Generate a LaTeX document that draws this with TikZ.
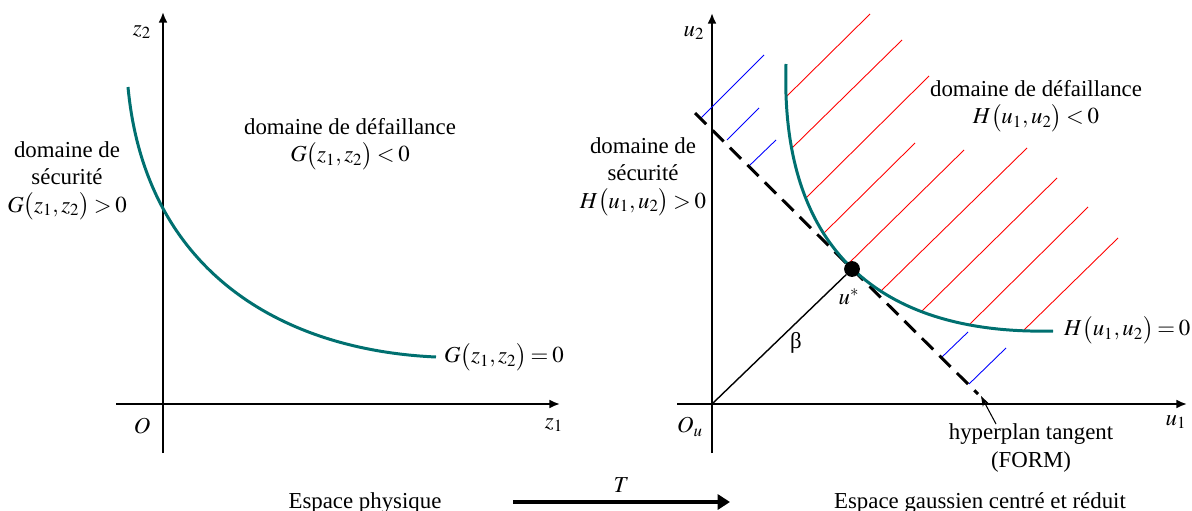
\documentclass[tikz,border=0pt]{standalone}
\usepackage{mathptmx}
\usepackage{fontspec}
\setmainfont{Liberation Serif}
\usetikzlibrary{arrows.meta}
\definecolor{courbe}{RGB}{0,112,112}
\newcommand{\serre}{\thickmuskip=3mu\relax}

\begin{document}
\begin{tikzpicture}[x=0.02cm,y=-0.02cm,
    every node/.style={font=\fontsize{13}{15.5}\selectfont\serre},
    axe/.style={line width=1.1pt,-{Latex[length=6pt,width=5pt]}},
    etat/.style={courbe,line width=1.7pt},
    hachR/.style={red,line width=0.5pt},
    hachB/.style={blue,line width=0.5pt},
    tangente/.style={line width=1.7pt,dash pattern=on 9pt off 5pt}]
\useasboundingbox (0,0) rectangle (1192,510);

% espace physique
\draw[axe] (163,453) -- (163,12);
\draw[axe] (116,404) -- (560,404);
\node (z2) at (142,32) {$z_2$};
\node (O) at (142,426) {$O$};
\node (z1) at (554,425) {$z_1$};
\draw[etat] (128,87) .. controls (145,270) and (280,350) .. (436,357);
\node[align=center] (defG) at (350,144) {domaine de défaillance\\$G\big(z_1,z_2\big)<0$};
\node[align=center] (secG) at (67,181) {domaine de\\sécurité\\$G\big(z_1,z_2\big)>0$};
\node[anchor=west] (limG) at (438,357) {$G\big(z_1,z_2\big)=0$};
\node[anchor=base] (espP) at (365,508) {Espace physique};

% transformation
\coordinate (Ta) at (513,502);
\coordinate (Tb) at (730,502);
\draw[line width=2.2pt,-{Triangle[length=7pt,width=8.5pt]}] (Ta) -- node[above=1pt] (T) {$T$} (Tb);

% espace gaussien
\draw[axe] (712,453) -- (712,13);
\draw[axe] (677,404) -- (1187,404);
\node (u2) at (694,33) {$u_2$};
\node (Ou) at (690,427) {$O_u$};
\node (u1) at (1176,422) {$u_1$};
\coordinate (orig) at (712,404);

\foreach \xa/\ya/\xb/\yb in {787/96/870/14, 792/148/902/40, 806/198/929/76, 824/233/915/143, 848/264/964/150, 881/291/1027/148, 922/311/1057/178, 970/324/1088/207, 1024/330/1118/238}
  \draw[hachR] (\xa,\ya) -- (\xb,\yb);
\foreach \xa/\ya/\xb/\yb in {701/118/764/55, 727/140/759/108, 749/166/776/140, 942/357/968/332, 969/384/1006/348}
  \draw[hachB] (\xa,\ya) -- (\xb,\yb);

\coordinate (tanA) at (695,113);
\coordinate (tanB) at (978,394);
\draw[tangente] (tanA) -- (tanB);
\draw[etat] (786,64) .. controls (780,250) and (880,335) .. (1053,331);

\node[circle,fill,inner sep=0pt,minimum size=9pt] (ustar) at (852,269) {};
\draw[line width=0.8pt] (orig) -- (ustar);
\node (beta) at (796,343) {β};
\node (ulab) at (849,297) {$u^*$};

\node[align=center] (defH) at (1036,106) {domaine de défaillance\\$H\big(u_1,u_2\big)<0$};
\node[align=center] (secH) at (643,177) {domaine de\\sécurité\\$H\big(u_1,u_2\big)>0$};
\node[anchor=west] (limH) at (1058,330) {$H\big(u_1,u_2\big)=0$};
\node[align=center] (hyp) at (1031,448) {hyperplan tangent\\(FORM)};
\coordinate (hypTail) at (996,424);
\coordinate (hypHead) at (981,396);
\draw[line width=0.6pt,-{Stealth[length=6pt,width=4pt]}] (hypTail) -- (hypHead);
\node[anchor=base] (espG) at (980,508) {Espace gaussien centré et réduit};
\end{tikzpicture}
\end{document}
